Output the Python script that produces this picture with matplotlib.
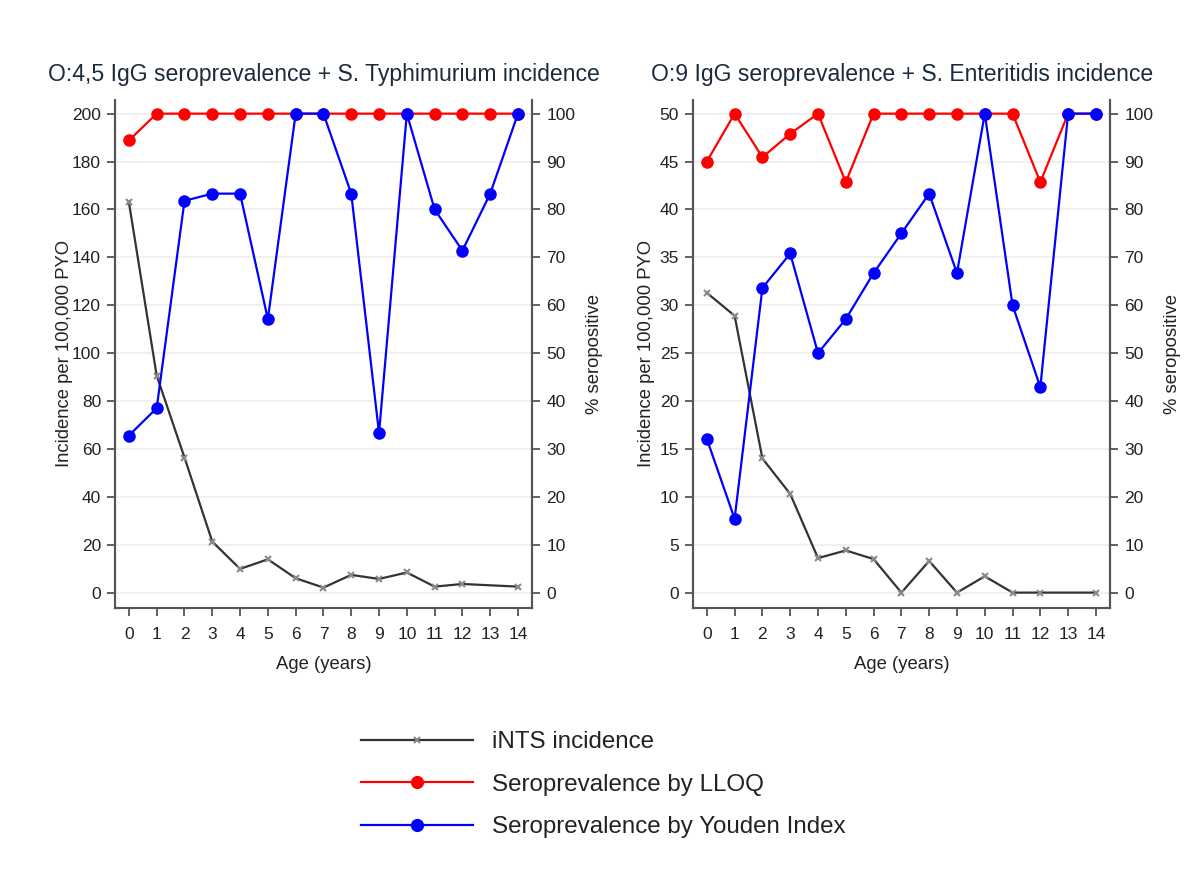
import matplotlib
matplotlib.use("Agg")
import matplotlib.pyplot as plt
from matplotlib.lines import Line2D
import numpy as np

plt.rcParams["font.family"] = ["Liberation Sans", "DejaVu Sans"]

ages = list(range(15))
# incidence has no point at age 13, the line runs straight from 12 to 14
inc_ages = [0, 1, 2, 3, 4, 5, 6, 7, 8, 9, 10, 11, 12, 14]

# O:4,5 / S. Typhimurium
typh_incidence = [163, 90.6, 56.4, 21.3, 9.9, 13.9, 6.0, 2.1, 7.4, 5.7, 8.4, 2.5, 3.6, 2.5]
typh_lloq = [94.4, 100, 100, 100, 100, 100, 100, 100, 100, 100, 100, 100, 100, 100, 100]
typh_youden = [32.8, 38.5, 81.8, 83.3, 83.3, 57.1, 100, 100, 83.3, 33.3, 100, 80.0, 71.4, 83.3, 100]

# O:9 / S. Enteritidis
ent_incidence = [31.3, 28.9, 14.0, 10.3, 3.6, 4.4, 3.5, 0, 3.3, 0, 1.7, 0, 0, 0]
ent_lloq = [90.0, 100, 90.9, 95.8, 100, 85.7, 100, 100, 100, 100, 100, 100, 85.7, 100, 100]
ent_youden = [32.1, 15.4, 63.6, 70.8, 50.0, 57.1, 66.7, 75.0, 83.3, 66.7, 100, 60.0, 42.9, 100, 100]

panels = [
    ("O:4,5 IgG seroprevalence + S. Typhimurium incidence", typh_incidence, typh_lloq, typh_youden,
     200, 20, 0.0956, -0.101),
    ("O:9 IgG seroprevalence + S. Enteritidis incidence", ent_incidence, ent_lloq, ent_youden,
     50, 5, 0.576, -0.091),
]

spine_col = "#555555"
text_col = "#222222"
title_col = "#1c2b3c"
tick_fs = 12.5
label_fs = 13.3

fig = plt.figure(figsize=(12.03, 8.74), dpi=100)

for title, inc, lloq, youden, ymax, ystep, left, ylab_x in panels:
    ax = fig.add_axes([left, 0.3047, 0.3470, 0.5809])
    ax2 = ax.twinx()

    ax.set_ylim(-ymax * 0.0315, ymax * 1.0285)
    ax2.set_ylim(-3.15, 102.85)
    ax.set_xlim(-0.5, 14.52)

    ax.set_yticks(np.arange(0, ymax + ystep / 2, ystep))
    ax2.set_yticks(np.arange(0, 101, 10))
    ax.set_xticks(ages)
    ax.grid(axis="y", color="#eeeeee", lw=1.2, zorder=0)
    ax.set_axisbelow(True)

    ax.plot(inc_ages, inc, color="#333333", lw=1.6, marker="x", ms=4.5,
            mec="#8a8a8a", mew=1.5, zorder=3)
    ax2.plot(ages, lloq, color="#ff0000", lw=1.6, marker="o", ms=8, zorder=3)
    ax2.plot(ages, youden, color="#0000ff", lw=1.6, marker="o", ms=8, zorder=4)

    for a in (ax, ax2):
        a.spines["top"].set_visible(False)
        for s in ("left", "right", "bottom"):
            a.spines[s].set_color(spine_col)
            a.spines[s].set_linewidth(1.5)
        a.tick_params(colors=spine_col, labelcolor=text_col, labelsize=tick_fs,
                      length=6, width=1.3, direction="out", pad=4)
    ax.tick_params(axis="x", pad=8)

    ax.set_title(title, fontsize=16.6, color=title_col, pad=13.5)
    ax.set_xlabel("Age (years)", fontsize=label_fs, color=text_col, labelpad=10)
    ax.set_ylabel("Incidence per 100,000 PYO", fontsize=label_fs, color=text_col)
    ax.yaxis.set_label_coords(ylab_x, 0.5)
    ax2.set_ylabel("% seropositive", fontsize=label_fs, color=text_col, rotation=90)
    ax2.yaxis.set_label_coords(1.128, 0.5)

handles = [
    Line2D([], [], color="#333333", lw=1.6, marker="x", ms=4.5, mec="#8a8a8a", mew=1.5),
    Line2D([], [], color="#ff0000", lw=1.6, marker="o", ms=8.5),
    Line2D([], [], color="#0000ff", lw=1.6, marker="o", ms=8.5),
]
labels = ["iNTS incidence", "Seroprevalence by LLOQ", "Seroprevalence by Youden Index"]
fig.legend(handles, labels, loc="upper left", bbox_to_anchor=(0.290, 0.177),
           frameon=False, fontsize=17.4, handlelength=4.63, handletextpad=0.8,
           labelspacing=0.85, borderpad=0, labelcolor=text_col)

fig.savefig("out.png", dpi=100, facecolor="white")
